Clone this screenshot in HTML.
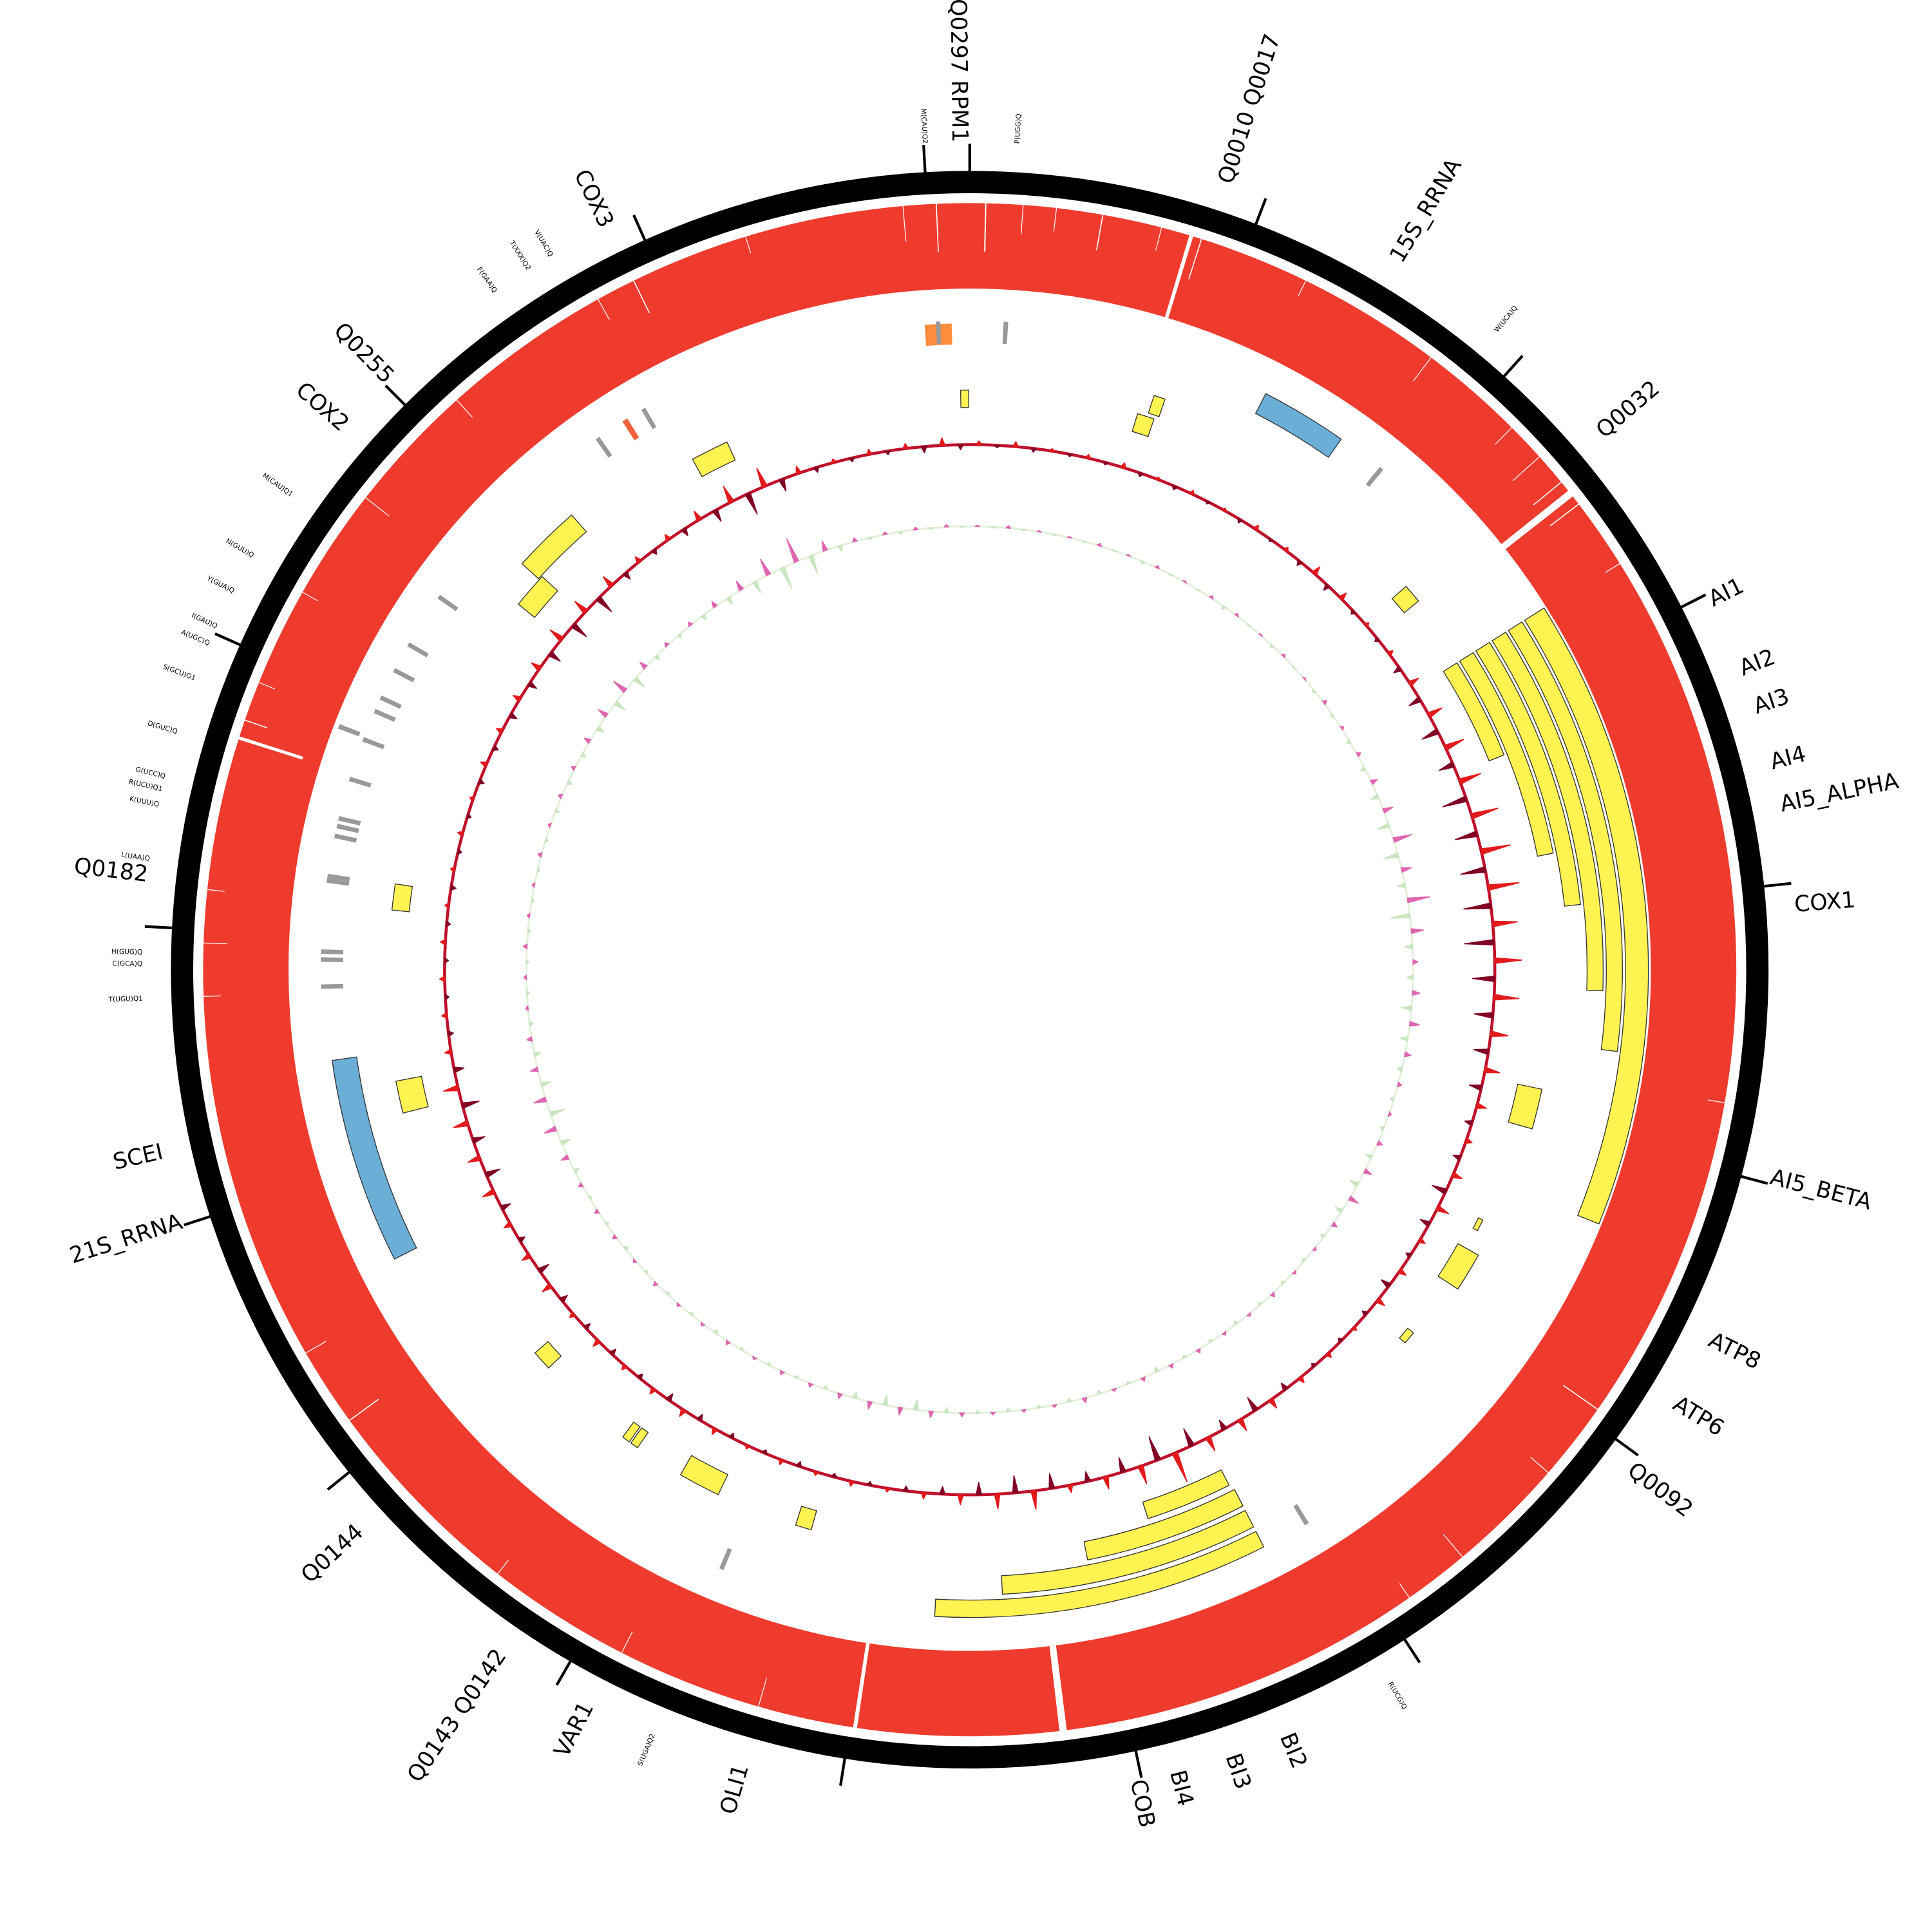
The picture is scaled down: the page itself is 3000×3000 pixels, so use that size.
<!DOCTYPE html>
<html><head><meta charset="utf-8"><style>
html,body{margin:0;padding:0;background:#fff;}
svg{display:block;}
text{font-family:"DejaVu Sans","Liberation Sans",sans-serif;fill:#000;}
</style></head>
<body>
<svg id="chart" xmlns="http://www.w3.org/2000/svg" width="3000" height="3000" viewBox="0 0 1560 1560">
<g id="g-ring"></g>
<g id="g-red"></g>
<g id="g-feat"></g>
<g id="g-gc"></g>
<g id="g-pink"></g>
<g id="g-lab"></g>
</svg>
<script>
const CX = 783, CY = 783;
const tickAngles = [0, 21, 42, 63, 84, 105, 126, 147, 168, 189, 210, 231, 252, 273, 294, 315, 336, 356.8];
const labelTexts = ["Q0297 RPM1","Q0010 Q0017","15S_RRNA","W(UCA)Q","Q0032","AI1","AI2","AI3","AI4","AI5_ALPHA","COX1","AI5_BETA","ATP8","ATP6","Q0092","R(UCG)Q","BI2","BI3","BI4","COB","OLI1","S(UGA)Q2","VAR1","Q0143 Q0142","Q0144","21S_RRNA","SCEI","T(UGU)Q1","C(GCA)Q","H(GUG)Q","Q0182","L(UAA)Q","K(UUU)Q","R(UCU)Q1","G(UCC)Q","D(GUC)Q","S(GCU)Q1","A(UGC)Q","I(GAU)Q","Y(GUA)Q","N(GUU)Q","M(CAU)Q1","COX2","Q0255","F(GAA)Q","T(XXX)Q2","V(UAC)Q","COX3","M(CAU)Q2","P(UGG)Q"];
const labelAngles = [359.3,18,31,39.5,49.6,63.5,68.7,71.5,75.5,78.5,85.5,104.5,116.5,121.5,127,149.5,157.5,161.5,165.5,168.3,196,202.5,207.5,214.5,227.5,252.3,257.3,268,270.4,271.2,276.6,277.7,281.5,282.6,283.5,286.7,290.6,293.2,294.5,297.2,300,305,311,315.5,325,327.8,329.6,334,356.9,3.3];
const labelSizes = [18,18,18,5.5,18,18,18,18,18,18,18,18,18,18,18,5.5,18,18,18,18,18,5.5,18,18,18,18,18,5.5,5.5,5.5,18,5.5,5.5,5.5,5.5,5.5,5.5,5.5,5.5,5.5,5.5,5.5,18,18,5.5,5.5,5.5,18,5.5,5.5];
const featStart = [57.8,57.8,57.8,57.8,57.8,57.8, 153.3,153,153,153, 359.1,17.8,16.8,27.2,331.5,312.2,309,48.7,275.9,255.8,101.8,116,119.3,129.3,226.6,214.8,215.8,205.6,195.8,243.3,356,323.9];
const featEnd   = [68.1,78.7,83.9,91.9,97.2,112, 162,168.7,177,183.1, 359.9,18.9,18.5,35,335.3,318.8,312.6,50.6,278.5,259,105.8,117.2,123.2,130.6,228.6,215.6,216.6,209.8,197.4,261.9,358.4,331.8];
const featRin   = [452,467.5,483,498.5,514,529.5, 452,471,490,509, 454,472,454,505,453,470,452,454,455,451,452,457,452,457,454,455,455,452,454,500,505,0];
const featRout  = [465,480.5,496,511.5,527,548, 466,486,505,523, 468,487,469,523,469,488,469,469,469,472,472,461,471,463,468,470,470,470,470,520,522,0];
const featType  = ["cds","cds","cds","cds","cds","cds","cds","cds","cds","cds","cds","cds","cds","rrna","cds","cds","cds","cds","cds","cds","cds","cds","cds","cds","cds","cds","cds","cds","cds","rrna","orange","none"];
const trnaAngles = [357.2,3.2,325,329.8,39.4,305.1,300.1,297.5,294.8,293.5,291.1,290.8,287.1,283.5,282.8,281.9,278.3,277.9,271.6,270.9,268.5,148.7,202.5];
const trnaTracks = [0,0,0,0,0,0,0,0,0,0,1,0,0,0,0,0,0,0,0,0,0,0,0];
const rrnaSpecial = [327.9];
const gapAngles = [1.2,4,6.5,10,14.5,16.8,17.6,26,37,45,48,50.5,51.6,52.6,58,100,125,131,140,145,173,188.6,196,207,218,234,240,268,272,276,287.6,289,292,299.5,308,318,331,334,343,355,357.5];
const gapInner  = [580,595,600,590,600,550,585,605,595,600,590,590,550,590,605,605,585,600,595,605,550,550,595,600,605,590,600,605,600,605,565,600,605,605,595,600,600,590,605,590,580];
const gapWidth  = [0.1,0.06,0.06,0.08,0.06,0.3,0.08,0.06,0.06,0.06,0.06,0.08,0.55,0.08,0.06,0.06,0.08,0.06,0.06,0.06,0.55,0.3,0.06,0.06,0.06,0.08,0.06,0.06,0.06,0.06,0.25,0.08,0.06,0.06,0.06,0.06,0.06,0.08,0.06,0.06,0.08];
const gcSkew = [3,-2,4,-3,2, -2,3,-2,4,-3, 2,-3,3,-2,2, -3,4,-2,3,-4, 7,-5,6,-3,3, -3,4,-6,8,-10, 12,-14,16,-12,18, -20,22,-18,24,-20, 25,-22,20,-24,22, -18,20,-15,14,-12, 12,-10,8,-6,5, -6,8,-12,10,-8, 5,-4,6,-8,7, -4,3,-3,4,-3, 5,-6,8,-12,10, -8,12,-15,25,-20, 15,-12,10,-8,6, -12,15,-14,12,-10, 8,-6,5,-4,3, -3,4,-3,3,-4, 4,-3,3,-4,5, -5,6,-6,5,-4, 4,-5,6,-5,4, -6,8,-9,7,-5, 6,-8,10,-12,10, -10,12,-14,12,-8, 5,-4,4,-3,4, -3,4,-3,3,-4, 3,-3,4,-3,3, -4,5,-4,5,-6, 6,-7,8,-10,12, -14,12,-15,10,-6, 5,-4,5,-6,8, -10,14,-18,16,-10, 6,-4,3,-3,4, -3,4,-5,6,-4];
const gcContent = [1,-1,2,-1,1, -1,1,-1,2,-1, 1,-2,2,-1,1, -1,2,-3,2,-1, 1,-2,2,-1,1, -2,3,-2,2,-3, 3,-4,5,-6,8, -10,15,-12,8,-6, 18,-16,10,-6,4, -5,6,-8,8,-6, 5,-4,3,-3,2, -3,4,-5,6,-7, 8,-6,4,-3,2, -2,2,-2,3,-2, 2,-3,2,-2,3, -2,3,-4,3,-2, 2,-3,4,-3,2, -2,2,-3,2,-2, 3,-4,5,-8,6, -8,6,-5,4,-3, 3,-2,3,-2,2, -2,3,-3,2,-2, 2,-2,3,-2,2, -3,3,-2,3,-2, 3,-4,6,-8,10, -12,10,-8,6,-5, 4,-3,2,-2,2, -2,3,-2,2,-2, 2,-2,3,-2,2, -3,3,-4,3,-4, 5,-6,8,-10,12, -10,6,-4,3,-3, 3,-4,5,-6,8, -10,14,-18,20,-15, 8,-5,3,-2,2, -2,2,-1,2,-1];

const NS = "http://www.w3.org/2000/svg";
function pt(a, r){ const t = a*Math.PI/180; return [CX + r*Math.sin(t), CY - r*Math.cos(t)]; }
function sector(a1, a2, r1, r2){
  if (a2 < a1) a2 += 360;
  const large = (a2 - a1) > 180 ? 1 : 0;
  const p1 = pt(a1, r2), p2 = pt(a2, r2), p3 = pt(a2, r1), p4 = pt(a1, r1);
  return `M${p1[0]},${p1[1]} A${r2},${r2} 0 ${large} 1 ${p2[0]},${p2[1]} L${p3[0]},${p3[1]} A${r1},${r1} 0 ${large} 0 ${p4[0]},${p4[1]} Z`;
}
function mk(tag, attrs, parent){ const e = document.createElementNS(NS, tag); for (const k in attrs) e.setAttribute(k, attrs[k]); parent.appendChild(e); return e; }

const gRing = document.getElementById('g-ring');
const ring = mk('circle', {cx:CX, cy:CY, r:636, fill:'none', stroke:'#000', 'stroke-width':18}, gRing);


tickAngles.forEach(a => {
  const p1 = pt(a, 644), p2 = pt(a, 667);
  const t = mk('line', {x1:p1[0], y1:p1[1], x2:p2[0], y2:p2[1], stroke:'#000', 'stroke-width':2.2}, gRing);
  
  
});

const gRed = document.getElementById('g-red');
const red = mk('path', {d: sector(0, 359.999, 550, 619), fill:'#ee3b2d'}, gRed);


gapAngles.forEach((a, i) => {
  const g = mk('path', {d: sector(a - gapWidth[i]/2, a + gapWidth[i]/2, gapInner[i], 619.5), fill:'#fff'}, gRed);
  
  
});

const gFeat = document.getElementById('g-feat');
featStart.forEach((s, i) => {
  const ty = featType[i];
  if (ty === 'none') return;
  let fill = '#fff352', stroke = '#333';
  if (ty === 'rrna') fill = '#6baed6';
  if (ty === 'orange') { fill = '#fd8d3c'; stroke = 'none'; }
  const f = mk('path', {d: sector(s, featEnd[i], featRin[i], featRout[i]), fill: fill, stroke: stroke, 'stroke-width':0.7}, gFeat);
  
  
});
trnaAngles.forEach((a, i) => {
  const r1 = trnaTracks[i] ? 528 : 506, r2 = r1 + 18;
  const b = mk('path', {d: sector(a - 0.2, a + 0.2, r1, r2), fill:'#999'}, gFeat);
  
  
});
rrnaSpecial.forEach(a => {
  const b = mk('path', {d: sector(a - 0.25, a + 0.25, 506, 524), fill:'#f4613a'}, gFeat);
  
  
});

function drawTrack(gid, vals, r0, posCol, negCol, baseCol, bw, name){
  const g = document.getElementById(gid);
  const base = mk('circle', {cx:CX, cy:CY, r:r0, fill:'none', stroke:baseCol, 'stroke-width':bw}, g);
  
  
  vals.forEach((v, i) => {
    const a = i*2 + 1;
    const pA = pt(a - 0.3, r0), pB = pt(a, r0 + v), pC = pt(a + 0.3, r0);
    const s = mk('path', {d:`M${pA[0]},${pA[1]} L${pB[0]},${pB[1]} L${pC[0]},${pC[1]} Z`, fill: v >= 0 ? posCol : negCol, stroke: v >= 0 ? posCol : negCol, 'stroke-width':0.8, 'stroke-linejoin':'round'}, g);
    
    
  });
}
drawTrack('g-gc', gcSkew, 424, '#e31a1c', '#800026', '#c0102a', 2.4, 'gc-skew');
drawTrack('g-pink', gcContent, 358, '#df65b0', '#c9e6c0', '#e3f0da', 1.6, 'gc-content');

const gLab = document.getElementById('g-lab');
labelTexts.forEach((txt, i) => {
  const a = labelAngles[i];
  const right = a > 0 && a < 180;
  const rot = right ? a - 90 : a + 90;
  const x = right ? CX + 668 : CX - 668;
  const t = mk('text', {x:x, y:CY, 'font-size':labelSizes[i], 'text-anchor': right ? 'start' : 'end', 'dominant-baseline':'central', transform:`rotate(${rot} ${CX} ${CY})`}, gLab);
  t.textContent = txt;
  
  
});
</script>
</body></html>
